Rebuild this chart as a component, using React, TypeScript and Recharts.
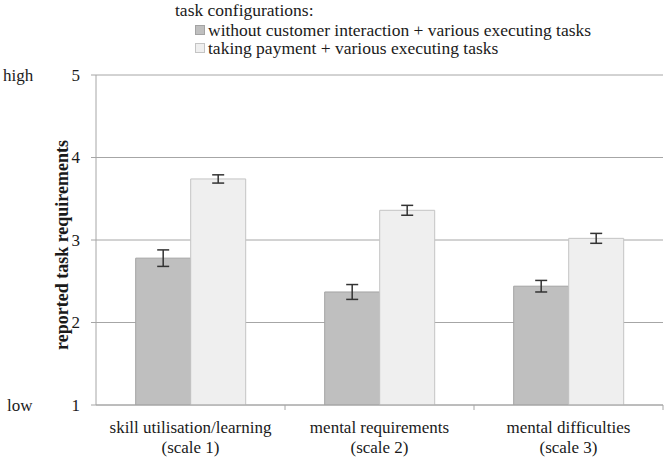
import React from 'react';
import { BarChart, Bar, XAxis, YAxis, CartesianGrid, Legend, ErrorBar, Label } from 'recharts';

// scale names, split in two lines as in the figure
const scaleNames = ['skill utilisation/learning', 'mental requirements', 'mental difficulties'];
const scaleNumbers = ['(scale 1)', '(scale 2)', '(scale 3)'];

// mean ratings (1 = low, 5 = high) and error bar half-widths
const withoutCustomer = [2.78, 2.37, 2.44];
const withoutCustomerErr = [0.1, 0.09, 0.07];
const takingPayment = [3.74, 3.36, 3.02];
const takingPaymentErr = [0.05, 0.06, 0.06];

const seriesNames = [
  'without customer interaction + various executing tasks',
  'taking payment + various executing tasks',
];
const yTicks = [1, 2, 3, 4, 5];

const data = scaleNames.map((name, i) => ({
  name,
  sub: scaleNumbers[i],
  without: withoutCustomer[i],
  withoutErr: withoutCustomerErr[i],
  payment: takingPayment[i],
  paymentErr: takingPaymentErr[i],
}));

const W = 671;
const H = 462;
const LEFT = 96;
const RIGHT = 8;
const TOP = 75;
const X_AXIS_H = 57;
const BAND = (W - LEFT - RIGHT) / scaleNames.length;
const FONT = '"Liberation Serif", "Times New Roman", serif';
const GRID = '#a6a6a6';
const INK = '#1a1a1a';

const fills = ['#bfbfbf', '#efefef'];
const strokes = ['#a3a3a3', '#c4c4c4'];

const XTick = (props: any) => {
  const { x, payload, index } = props;
  const axisY = H - X_AXIS_H;
  const row = data[index];
  return (
    <g>
      <line x1={x + BAND / 2} y1={axisY} x2={x + BAND / 2} y2={axisY + 5} stroke={GRID} />
      <text x={x} y={axisY} textAnchor="middle" fontFamily={FONT} fontSize={17} fill={INK}>
        <tspan x={x} dy={28}>{payload.value}</tspan>
        <tspan x={x} dy={19.5}>{row ? row.sub : ''}</tspan>
      </text>
    </g>
  );
};

const YTick = (props: any) => {
  const { x, y, payload } = props;
  return (
    <g fontFamily={FONT} fontSize={17} fill={INK}>
      <text x={x} y={y} dy={5.5} textAnchor="end">{payload.value}</text>
      {payload.value === 5 && <text x={3} y={y} dy={5.5}>high</text>}
      {payload.value === 1 && <text x={7} y={y} dy={5.5}>low</text>}
    </g>
  );
};

const LegendBox = () => (
  <div style={{ fontFamily: FONT, fontSize: 17.5, lineHeight: '18.5px', color: INK, whiteSpace: 'nowrap' }}>
    <div style={{ lineHeight: '20.5px' }}>task configurations:</div>
    {seriesNames.map((name, i) => (
      <div key={name} style={{ paddingLeft: 20, display: 'flex', alignItems: 'center' }}>
        <span
          style={{
            display: 'inline-block',
            width: 8,
            height: 8,
            background: fills[i],
            border: `1px solid ${strokes[i]}`,
            marginRight: 3,
          }}
        />
        <span>{name}</span>
      </div>
    ))}
  </div>
);

const YLabel = () => {
  const cy = TOP + (H - X_AXIS_H - TOP) / 2 + 5;
  return (
    <text
      x={62}
      y={cy}
      transform={`rotate(-90, 62, ${cy})`}
      textAnchor="middle"
      dominantBaseline="central"
      fontFamily={FONT}
      fontSize={18}
      fontWeight="bold"
      fill={INK}
    >
      reported task requirements
    </text>
  );
};

export default function App() {
  return (
    <div style={{ position: 'absolute', left: 0, top: 0, width: W, height: H, background: '#fff' }}>
      <BarChart
        width={W}
        height={H}
        data={data}
        margin={{ top: TOP, right: RIGHT, left: 0, bottom: 0 }}
        barCategoryGap="21%"
        barGap={0}
      >
        <CartesianGrid vertical={false} stroke={GRID} />
        <XAxis
          dataKey="name"
          height={X_AXIS_H}
          tickLine={false}
          axisLine={{ stroke: GRID }}
          tick={<XTick />}
          interval={0}
        />
        <YAxis
          width={LEFT}
          domain={[1, 5]}
          ticks={yTicks}
          allowDataOverflow
          tickSize={5}
          tickMargin={11}
          tickLine={{ stroke: GRID }}
          axisLine={{ stroke: GRID }}
          tick={<YTick />}
        >
          <Label content={<YLabel />} />
        </YAxis>
        <Legend
          layout="horizontal"
          verticalAlign="middle"
          align="center"
          content={<LegendBox />}
          wrapperStyle={{ top: 0, left: 175, width: 'auto', height: 'auto' }}
        />
        <Bar dataKey="without" name={seriesNames[0]} fill={fills[0]} stroke={strokes[0]} isAnimationActive={false}>
          <ErrorBar dataKey="withoutErr" width={6} stroke="#333" strokeWidth={1.5} direction="y" />
        </Bar>
        <Bar dataKey="payment" name={seriesNames[1]} fill={fills[1]} stroke={strokes[1]} isAnimationActive={false}>
          <ErrorBar dataKey="paymentErr" width={6} stroke="#333" strokeWidth={1.5} direction="y" />
        </Bar>
      </BarChart>
    </div>
  );
}
